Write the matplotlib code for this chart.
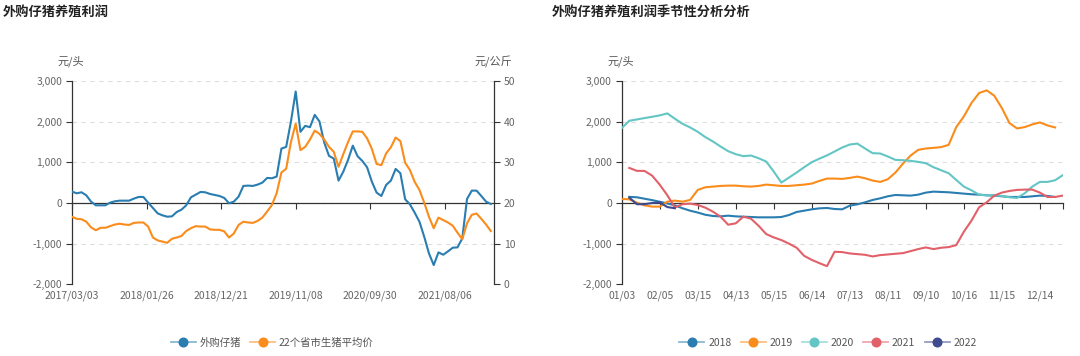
import numpy as np
import matplotlib
matplotlib.use('Agg')
import matplotlib.pyplot as plt
from matplotlib.lines import Line2D
from matplotlib.legend_handler import HandlerTuple
from matplotlib.ticker import FuncFormatter
from matplotlib.transforms import blended_transform_factory

plt.rcParams['font.family'] = ['Noto Sans CJK SC', 'DejaVu Sans']

# ---------------- left chart data ----------------
left_title = '外购仔猪养殖利润'
left_unit_l = '元/头'
left_unit_r = '元/公斤'
n_weeks = 267          # number of weekly categories on the axis
week_step = 3          # values below are read every 3rd week
left_tick_labels = ['2017/03/03', '2018/01/26', '2018/12/21', '2019/11/08', '2020/09/30', '2021/08/06']
left_tick_step = 47
left_series_names = ['外购仔猪', '22个省市生猪平均价']

piglet_profit = [279, 238, 263, 189, 33, -57, -57, -57, 8, 41, 57, 57, 57, 107, 148, 148,
                 8, -123, -255, -304, -337, -329, -222, -164, -57, 140, 205, 271, 263, 222,
                 197, 172, 123, -8, 33, 156, 419, 427, 419, 452, 501, 616, 608, 649, 1338,
                 1379, 2003, 2742, 1750, 1897, 1864, 2167, 2003, 1486, 1158, 1092, 550, 770,
                 1060, 1410, 1150, 1034, 878, 525, 255, 172, 443, 550, 837, 731, 90, -33,
                 -238, -460, -829, -1240, -1527, -1215, -1273, -1190, -1100, -1092, -870,
                 99, 304, 304, 172, 33, -25]

hog_price = [16.6, 16.1, 16.0, 15.4, 14.0, 13.3, 13.9, 13.9, 14.3, 14.7, 14.9, 14.7, 14.6,
             15.1, 15.2, 15.2, 14.2, 11.5, 10.8, 10.5, 10.2, 11.2, 11.5, 11.9, 13.1, 13.8,
             14.3, 14.2, 14.2, 13.5, 13.4, 13.4, 13.0, 11.5, 12.5, 14.6, 15.4, 15.2, 15.1,
             15.6, 16.4, 17.9, 19.5, 22.4, 27.5, 28.4, 35.0, 39.5, 33.0, 33.8, 35.6, 37.8,
             37.0, 35.6, 33.8, 32.6, 28.9, 32.0, 35.0, 37.6, 37.6, 37.5, 35.9, 33.3, 29.6,
             29.3, 32.2, 33.7, 36.1, 35.2, 29.9, 28.1, 25.2, 23.2, 20.1, 16.6, 13.8, 16.4,
             15.8, 15.2, 14.4, 12.7, 11.1, 15.0, 17.1, 17.4, 16.1, 14.7, 13.1]

# ---------------- right chart data ----------------
right_title = '外购仔猪养殖利润季节性分析分析'
right_unit = '元/头'
n_season = 59
season_tick_labels = ['01/03', '02/05', '03/15', '04/13', '05/15', '06/14',
                      '07/13', '08/11', '09/10', '10/16', '11/15', '12/14']
season_tick_step = 5
years = ['2018', '2019', '2020', '2021', '2022']

p2018 = [None, 150, 140, 105, 70, 30, -10, -60, -130, -190, -235, -290, -320, -329, -312,
         -329, -337, -345, -353, -353, -353, -345, -296, -222, -189, -156, -132, -123, -148,
         -156, -66, -33, 16, 74, 115, 164, 197, 189, 181, 205, 255, 279, 271, 263, 247, 230,
         214, 205, 189, 181, 164, 148, 148, 148, 164, 181, 173, 148, None]
p2019 = [99, 90, 8, -58, -90, -90, 33, 58, 33, 74, 321, 386, 403, 419, 427, 427, 411, 403,
         419, 452, 436, 419, 419, 436, 452, 477, 543, 600, 600, 592, 617, 649, 608, 551, 518,
         584, 748, 970, 1167, 1307, 1340, 1356, 1373, 1430, 1866, 2129, 2458, 2704, 2770,
         2639, 2334, 1965, 1833, 1866, 1932, 1981, 1907, 1858, None]
p2020 = [1841, 2022, 2055, 2088, 2120, 2154, 2203, 2071, 1948, 1858, 1751, 1620, 1512, 1389,
         1274, 1200, 1151, 1167, 1101, 1019, 773, 501, 625, 748, 880, 1003, 1090, 1170, 1266,
         1364, 1438, 1460, 1340, 1225, 1217, 1143, 1060, 1052, 1036, 1011, 978, 880, 806, 732,
         567, 403, 312, 205, 189, 189, 173, 140, 123, 238, 403, 518, 518, 559, 682]
p2021 = [None, 862, 790, 788, 673, 450, 190, -110, -30, -16, -49, -115, -214, -337, -534,
         -501, -337, -386, -560, -764, -847, -912, -1000, -1100, -1300, -1400, -1480, -1554,
         -1200, -1208, -1241, -1258, -1274, -1315, -1282, -1266, -1249, -1233, -1184, -1134,
         -1093, -1134, -1101, -1085, -1036, -707, -436, -107, 16, 181, 255, 296, 321, 329,
         329, 255, 148, 148, 181]
p2022 = [None, 130, -30, -30, 0, 15, -100, -130] + [None] * 51

# ---------------- style ----------------
C_BLUE = '#2a7db0'
C_ORANGE = '#fa8c1c'
C_TEAL = '#63c6c5'
C_RED = '#e2606a'
C_NAVY = '#3e4b8e'
year_colors = [C_BLUE, C_ORANGE, C_TEAL, C_RED, C_NAVY]
AX_COL = '#333333'
LBL_COL = '#666666'
GRID_COL = '#dedede'
FS = 7.5

W, H = 1080, 356
fig = plt.figure(figsize=(W / 100, H / 100), dpi=100)
fig.patch.set_facecolor('white')

y_top, y_bot = 81.0, 284.3
ax_b = 1 - y_bot / H
ax_h = (y_bot - y_top) / H


def fmt_thousands(v, pos):
    return f'{int(round(v)):,}'


def style_value_axis(ax):
    ax.set_ylim(-2000, 3000)
    ax.set_yticks(np.arange(-2000, 3001, 1000))
    ax.yaxis.set_major_formatter(FuncFormatter(fmt_thousands))
    ax.tick_params(axis='y', direction='out', length=4.5, width=0.8, color=AX_COL,
                   labelsize=FS, labelcolor=LBL_COL, pad=2.5)
    ax.grid(axis='y', linestyle=(0, (4, 4)), color=GRID_COL, lw=0.8)
    ax.set_axisbelow(True)
    for s in ['top', 'right']:
        ax.spines[s].set_visible(False)
    ax.spines['left'].set_color(AX_COL)
    ax.spines['left'].set_linewidth(0.9)
    ax.spines['bottom'].set_position(('data', 0))
    ax.spines['bottom'].set_color(AX_COL)
    ax.spines['bottom'].set_linewidth(0.9)
    ax.spines['bottom'].set_zorder(2.5)
    ax.set_facecolor('none')


def category_labels(ax, positions, labels):
    ax.set_xticks(positions)
    ax.tick_params(axis='x', direction='out', length=4, width=0.8, color=AX_COL,
                   labelbottom=False)
    trans = blended_transform_factory(ax.transData, ax.transAxes)
    for p, lab in zip(positions, labels):
        ax.annotate(lab, xy=(p, 0), xycoords=trans, xytext=(0, -4.5),
                    textcoords='offset points', ha='center', va='top',
                    fontsize=FS, color=LBL_COL)


def legend_handle(col):
    line = Line2D([0], [0], color=col, lw=1.3, alpha=0.55)
    dot = Line2D([0], [0], color=col, lw=0, marker='o', ms=6.2)
    return (line, dot)


# ---------------- left chart ----------------
axL = fig.add_axes([72 / W, ax_b, 422 / W, ax_h])
axL.set_xlim(0, n_weeks - 1)
style_value_axis(axL)
left_pos = [i * left_tick_step for i in range(len(left_tick_labels))]
category_labels(axL, left_pos, left_tick_labels)

xw = np.arange(len(piglet_profit)) * week_step
axL.plot(xw, piglet_profit, color=C_BLUE, lw=1.5, zorder=3, solid_joinstyle='round')

axR = axL.twinx()
axR.set_ylim(0, 50)
axR.set_yticks(np.arange(0, 51, 10))
axR.tick_params(axis='y', direction='out', length=4.5, width=0.8, color=AX_COL,
                labelsize=FS, labelcolor=LBL_COL, pad=2.5)
for s in ['top', 'left', 'bottom']:
    axR.spines[s].set_visible(False)
axR.spines['right'].set_color(AX_COL)
axR.spines['right'].set_linewidth(0.9)
axR.plot(np.arange(len(hog_price)) * week_step, hog_price, color=C_ORANGE, lw=1.5,
         zorder=3, solid_joinstyle='round')

fig.text(3 / W, 1 - 13 / H, left_title, fontsize=9.5, fontweight='bold', color='#222222',
         ha='left', va='center')
fig.text(71 / W, 1 - 61.5 / H, left_unit_l, fontsize=8, color='#555555', ha='center', va='center')
fig.text(512 / W, 1 - 61.5 / H, left_unit_r, fontsize=8, color='#555555', ha='right', va='center')

tuple_handler = {tuple: HandlerTuple(ndivide=1, pad=0)}

hL = [legend_handle(C_BLUE), legend_handle(C_ORANGE)]
fig.legend(hL, left_series_names, loc='center', bbox_to_anchor=(272 / W, 1 - 342.5 / H),
           ncol=2, frameon=False, fontsize=FS, handlelength=2.4, handletextpad=0.35,
           columnspacing=0.9, labelcolor='#555555', handler_map=tuple_handler)

# ---------------- right chart ----------------
axS = fig.add_axes([621.7 / W, ax_b, 441 / W, ax_h])
axS.set_xlim(0, n_season - 1)
style_value_axis(axS)
season_pos = [i * season_tick_step for i in range(len(season_tick_labels))]
category_labels(axS, season_pos, season_tick_labels)
axS.set_xticks(season_pos + [n_season - 1])

xs = np.arange(n_season)
for yr, vals, col in zip(years, [p2018, p2019, p2020, p2021, p2022], year_colors):
    arr = np.array([np.nan if v is None else v for v in vals], dtype=float)
    axS.plot(xs, arr, color=col, lw=1.5, zorder=3, solid_joinstyle='round')

fig.text(552 / W, 1 - 13 / H, right_title, fontsize=9.5, fontweight='bold', color='#222222',
         ha='left', va='center')
fig.text(621 / W, 1 - 61.5 / H, right_unit, fontsize=8, color='#555555', ha='center', va='center')

hS = [legend_handle(c) for c in year_colors]
fig.legend(hS, years, loc='center', bbox_to_anchor=(828 / W, 1 - 342.5 / H), ncol=5,
           frameon=False, fontsize=FS, handlelength=2.4, handletextpad=0.35,
           columnspacing=0.9, labelcolor='#555555', handler_map=tuple_handler)

fig.savefig('out.png', dpi=100, facecolor='white')
